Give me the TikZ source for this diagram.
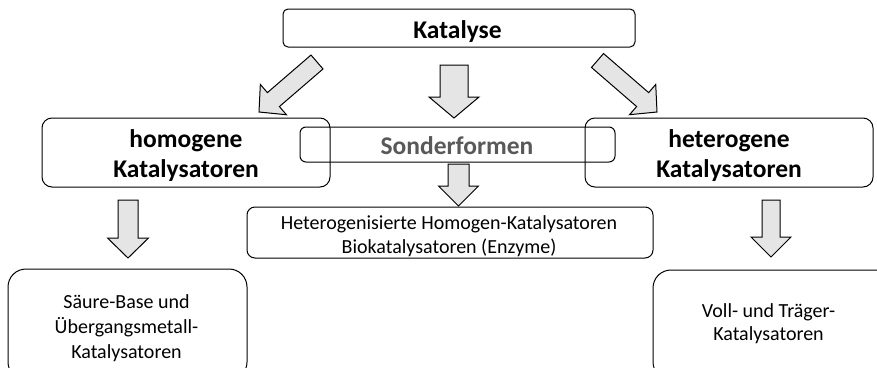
\documentclass[tikz,border=0pt]{standalone}
\usepackage{fontspec}
\setmainfont{Carlito}
\usetikzlibrary{calc}
\definecolor{sondergray}{HTML}{595959}
\tikzset{
  box/.style={draw=black, line width=1pt, rounded corners=#1, inner sep=0pt, fill=none},
  box/.default=8pt,
  barrow/.style={draw=black, line width=1pt, fill=gray!20, line join=miter},
  boldtxt/.style={font=\fontsize{25.5}{30}\selectfont\bfseries, align=center, inner sep=0pt, anchor=base},
  plaintxt/.style={font=\fontsize{20}{24}\selectfont, align=center, inner sep=0pt, anchor=base},
  lowtxt/.style={font=\fontsize{20}{25}\selectfont, align=center, inner sep=0pt, anchor=base},
  rtxt/.style={font=\fontsize{20}{23}\selectfont, align=center, inner sep=0pt, anchor=base},
}
\newcommand\blockarrow[5]{% #1 tail, #2 tip, #3 shaft half width, #4 head half width, #5 head length
  \coordinate (#2-neck) at ($(#2)!#5!(#1)$);
  \draw[barrow] ($(#1)!#3!90:(#2)$) -- ($(#2-neck)!#3!90:(#2)$) -- ($(#2-neck)!#4!90:(#2)$)
    -- (#2) -- ($(#2-neck)!#4!-90:(#2)$) -- ($(#2-neck)!#3!-90:(#2)$) -- ($(#1)!#3!-90:(#2)$) -- cycle;}
\begin{document}
\begin{tikzpicture}[x=1pt, y=-1pt]
  \useasboundingbox (0,0) rectangle (877,367);
  \clip (0,0) rectangle (877,367);
  \fill[white] (0,0) rectangle (877,367);

  % boxes
  \node[box=5pt, minimum width=352pt, minimum height=38pt] (katbox) at (459,28) {};
  \node[box=10pt, minimum width=288pt, minimum height=69pt] (homobox) at (186,152.5) {};
  \node[box=10pt, minimum width=288pt, minimum height=69pt] (heterobox) at (729,152.5) {};
  \node[box=6pt, minimum width=315pt, minimum height=35pt] (sonderbox) at (457.5,144.5) {};
  \node[box=8pt, minimum width=406pt, minimum height=51pt] (spezbox) at (450,232.5) {};
  \node[box=18pt, minimum width=239pt, minimum height=111pt] (saeurebox) at (127.5,324.5) {};
  \node[box=18pt, minimum width=252pt, minimum height=110pt] (vollbox) at (779,325) {};

  % texts (anchored at the baseline of their last line)
  \node[boldtxt] (kat) at (457.5,38) {Katalyse};
  \node[boldtxt] (homo) at (186,177) {homogene\\Katalysatoren};
  \node[boldtxt] (hetero) at (729,177) {heterogene\\Katalysatoren};
  \node[boldtxt, text=sondergray] (sonder) at (457,154) {Sonderformen};
  \node[plaintxt] (spez) at (449,253) {Heterogenisierte Homogen-Katalysatoren\\Biokatalysatoren (Enzyme)};
  \node[lowtxt] (saeure) at (126.5,358) {Säure-Base und\\Übergangsmetall-\\Katalysatoren};
  \node[rtxt] (voll) at (768.5,340) {Voll- und Träger-\\Katalysatoren};

  % block arrows
  \coordinate (a1t) at (317,62);   \coordinate (a1h) at (259,112);
  \coordinate (a2t) at (597.5,60.5); \coordinate (a2h) at (657,112);
  \coordinate (a3t) at (454,65);   \coordinate (a3h) at (454,118);
  \coordinate (a4t) at (458.5,164); \coordinate (a4h) at (458.5,206);
  \coordinate (a5t) at (128,200);  \coordinate (a5h) at (128,258);
  \coordinate (a6t) at (771,200);  \coordinate (a6h) at (771,257);
  \blockarrow{a1t}{a1h}{9.2pt}{20pt}{19pt}
  \blockarrow{a2t}{a2h}{9.2pt}{20pt}{19pt}
  \blockarrow{a3t}{a3h}{14pt}{25pt}{21pt}
  \blockarrow{a4t}{a4h}{10.5pt}{20pt}{20pt}
  \blockarrow{a5t}{a5h}{10pt}{20.5pt}{20pt}
  \blockarrow{a6t}{a6h}{9pt}{20pt}{20pt}
\end{tikzpicture}
\end{document}
